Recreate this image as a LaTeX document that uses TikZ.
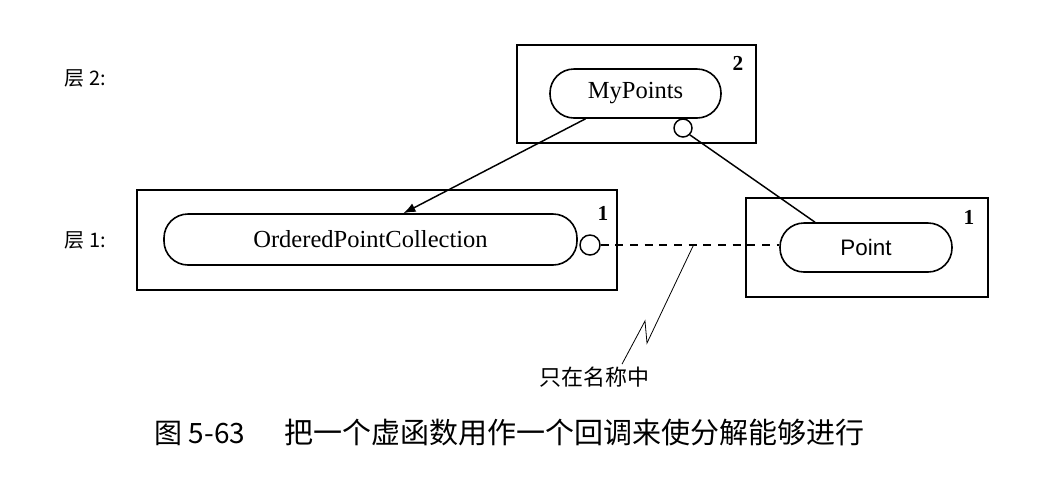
\documentclass[tikz,border=0pt]{standalone}
\usepackage{fontspec}
\setmainfont{Liberation Serif}
\newfontfamily\cjk{Noto Sans CJK SC}
\newfontfamily\sansf{Liberation Sans}
\usetikzlibrary{arrows.meta,calc}
\begin{document}
\begin{tikzpicture}[x=0.75pt,y=-0.75pt,
  layerbox/.style={draw,line width=0.9pt,inner sep=0pt},
  pill/.style={draw,line width=1.2pt,rounded corners=18pt,inner sep=0pt,minimum height=36.75pt},
  lollipop/.style={draw,circle,line width=1.1pt,inner sep=0pt,fill=white},
  levelno/.style={font=\fontsize{16}{16}\selectfont\bfseries},
  layerlabel/.style={anchor=west,font=\cjk\fontsize{15}{15}\selectfont},
  conn/.style={line width=1.1pt},
  notelink/.style={line width=0.6pt}]
\fill[white] (0,0) rectangle (1040,476);
\useasboundingbox (0,0) rectangle (1040,476);

% layer labels
\node[layerlabel] (l2) at (60,78) {层 2:};
\node[layerlabel] (l1) at (60,240) {层 1:};

% layer boxes
\node[layerbox,minimum width=179.25pt,minimum height=73.5pt] (b2) at (636.5,94) {};
\node[layerbox,minimum width=360pt,minimum height=75pt] (b1) at (377,240) {};
\node[layerbox,minimum width=181.5pt,minimum height=74.25pt] (b3) at (867,247.5) {};

% level numbers
\node[levelno] (n2) at (738,63) {2};
\node[levelno] (n1) at (603,213) {1};
\node[levelno] (n3) at (969,217) {1};

% components
\node[pill,minimum width=128.25pt,font=\fontsize{18.4}{18.4}\selectfont] (mp) at (635.5,93.5) {MyPoints};
\node[pill,minimum width=309.75pt,minimum height=38.25pt,font=\fontsize{18.4}{18.4}\selectfont] (opc) at (370.5,239.5) {OrderedPointCollection};
\node[pill,minimum width=129pt,font=\sansf\fontsize{16.8}{16.8}\selectfont] (pt) at (866,247.5) {Point};

% lollipops
\node[lollipop,minimum size=13.5pt] (mpc) at (683,128) {};
\node[lollipop,minimum size=15pt] (opcc) at (590,245) {};

% connectors
\draw[conn,-{Latex[length=9pt,width=7pt]}] ($(mp.south)+(-50,0)$) -- ($(opc.north)+(33,0)$);
\draw[conn] (mpc.south east) -- ($(pt.north)+(-51,0)$);
\draw[conn,dash pattern=on 6pt off 5pt] (opcc.east) -- (opcc.east -| pt.west);

% note
\node[font=\cjk\fontsize{16.5}{16.5}\selectfont] (note) at (594,377) {只在名称中};
\coordinate (nt) at ($(opcc.east)!0.52!(opcc.east -| pt.west)$);
\coordinate (z1) at (647,343);
\coordinate (z2) at (645,321);
\draw[notelink] (nt) -- (z1) -- (z2) -- ($(note.north)+(28,2)$);

% caption
\node[anchor=east,font=\cjk\fontsize{21}{21}\selectfont] (cap1) at (250,433) {图 5-63};
\node[anchor=west,font=\cjk\fontsize{21.75}{21.75}\selectfont] (cap2) at (280,433) {把一个虚函数用作一个回调来使分解能够进行};
\end{tikzpicture}
\end{document}
